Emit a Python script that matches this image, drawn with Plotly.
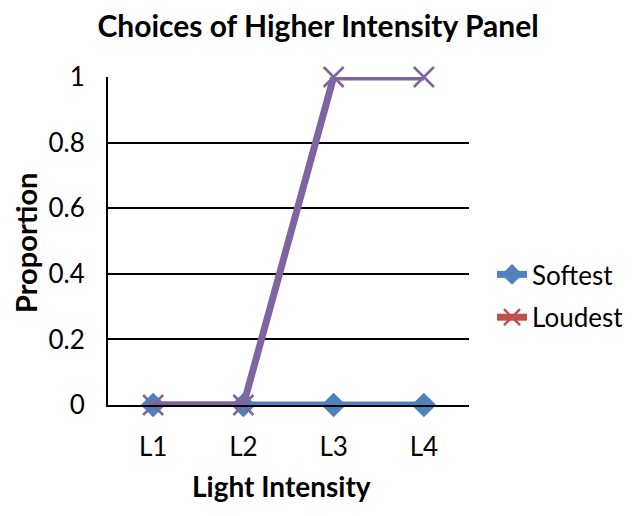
import plotly.graph_objects as go

categories = ["L1", "L2", "L3", "L4"]
softest = [0, 0, 0, 0]
loudest = [0, 0, 1, 1]
y_ticks = [0, 0.2, 0.4, 0.6, 0.8, 1]
y_tick_labels = ["0", "0.2", "0.4", "0.6", "0.8", "1"]

BLUE = "#4F81BD"
PURPLE = "#8064A2"
RED = "#C0504D"
FONT = "Lato"

L, R, T, B = 108, 166, 77, 111
PW, PH = 635 - L - R, 516 - T - B

fig = go.Figure()
fig.add_trace(go.Scatter(
    x=categories, y=softest, name="Softest", mode="lines+markers",
    line=dict(color=BLUE, width=7), cliponaxis=False,
    legendgroup="a",
    marker=dict(symbol="diamond", size=19, color=BLUE),
))
fig.add_trace(go.Scatter(
    x=categories, y=loudest, name="Loudest", mode="lines+markers",
    line=dict(color=PURPLE, width=7), cliponaxis=False,
    marker=dict(symbol="x-thin-open", size=20, line=dict(color=PURPLE, width=2.5)),
    showlegend=False,
))
# legend entry for Loudest (Excel shows a red line with purple cross)
fig.add_trace(go.Scatter(
    x=[None], y=[None], name="Loudest", mode="lines+markers",
    legendgroup="b",
    line=dict(color=RED, width=7),
    marker=dict(symbol="x-thin-open", size=20, line=dict(color=PURPLE, width=2.5)),
))

fig.update_layout(
    width=635, height=516,
    margin=dict(l=L, r=R, t=T, b=B, autoexpand=False),
    paper_bgcolor="white", plot_bgcolor="white",
    font=dict(family=FONT, size=26, color="black"),
    title=dict(text="<b>Choices of Higher Intensity Panel</b>", x=318 / 635, xref="container",
               xanchor="center", y=1 - 26 / 516, yref="container", yanchor="middle",
               font=dict(family=FONT, size=30, color="black")),
    xaxis=dict(
        type="category", range=[-0.5, 3.5],
        showgrid=False, showline=True, linecolor="black", linewidth=2,
        ticks="", tickfont=dict(size=26), ticklabelstandoff=18,
        zeroline=False, automargin=False,
    ),
    yaxis=dict(
        range=[0, 1], tickvals=y_ticks, ticktext=y_tick_labels,
        showgrid=True, gridcolor="black", gridwidth=2,
        showline=True, linecolor="black", linewidth=2,
        ticks="", tickfont=dict(size=26), ticklabelstandoff=16,
        zeroline=False, automargin=False,
    ),
    legend=dict(x=(492 - L) / PW, y=(405 - 251) / PH, xanchor="left", yanchor="top",
                font=dict(size=26), traceorder="grouped", tracegroupgap=6,
                bgcolor="rgba(0,0,0,0)"),
    annotations=[
        dict(text="<b>Proportion</b>", x=(25 - L) / PW, xref="paper", y=(405 - 243) / PH, yref="paper",
             showarrow=False, textangle=-90, font=dict(size=29),
             xanchor="center", yanchor="middle"),
        dict(text="<b>Light Intensity</b>", x=(281 - L) / PW, xref="paper", y=-(486 - 405) / PH, yref="paper",
             showarrow=False, font=dict(size=28), xanchor="center", yanchor="middle"),
    ],
)

fig.write_html("out.html", config={"displayModeBar": False},
               post_script="document.body.style.margin='0px';")
